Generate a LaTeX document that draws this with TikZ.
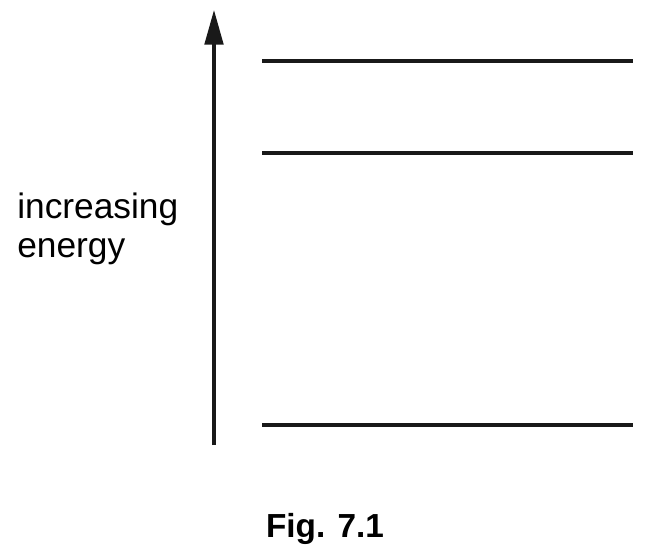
\documentclass[tikz,border=0pt]{standalone}
\usepackage{fontspec}
\setmainfont{Liberation Sans}
\usetikzlibrary{arrows.meta,positioning}
\tikzset{
  level/.style={line width=2.3pt, draw=black!90},
  axis/.style={-{Triangle[length=26pt, width=14pt]}, line width=2.3pt, draw=black!90},
  axislabel/.style={align=left, inner sep=0pt, font=\fontsize{26.5}{29}\selectfont},
  caption/.style={inner sep=0pt, font=\fontsize{25}{30}\selectfont\bfseries},
}
\begin{document}
\begin{tikzpicture}[x=0.75pt, y=-0.75pt]
    \useasboundingbox (0,0) rectangle (649,558);
    % energy axis
    \coordinate (axbot) at (214,445);
    \coordinate (axtop) at (214,10);
    \draw[axis] (axbot)--(axtop);
    \node[axislabel, anchor=base west] (lab) at (17,257) {increasing\\ energy};
    % levels
    \coordinate (l1a) at (262,61);  \coordinate (l1b) at (633,61);
    \coordinate (l2a) at (262,153); \coordinate (l2b) at (633,153);
    \coordinate (l3a) at (262,425); \coordinate (l3b) at (633,425);
    \draw[level] (l1a)--(l1b);\draw[level] (l2a)--(l2b);\draw[level] (l3a)--(l3b);
    \node[caption, anchor=base] (fig) at (325,537) {Fig. 7.1};
\end{tikzpicture}
\end{document}
